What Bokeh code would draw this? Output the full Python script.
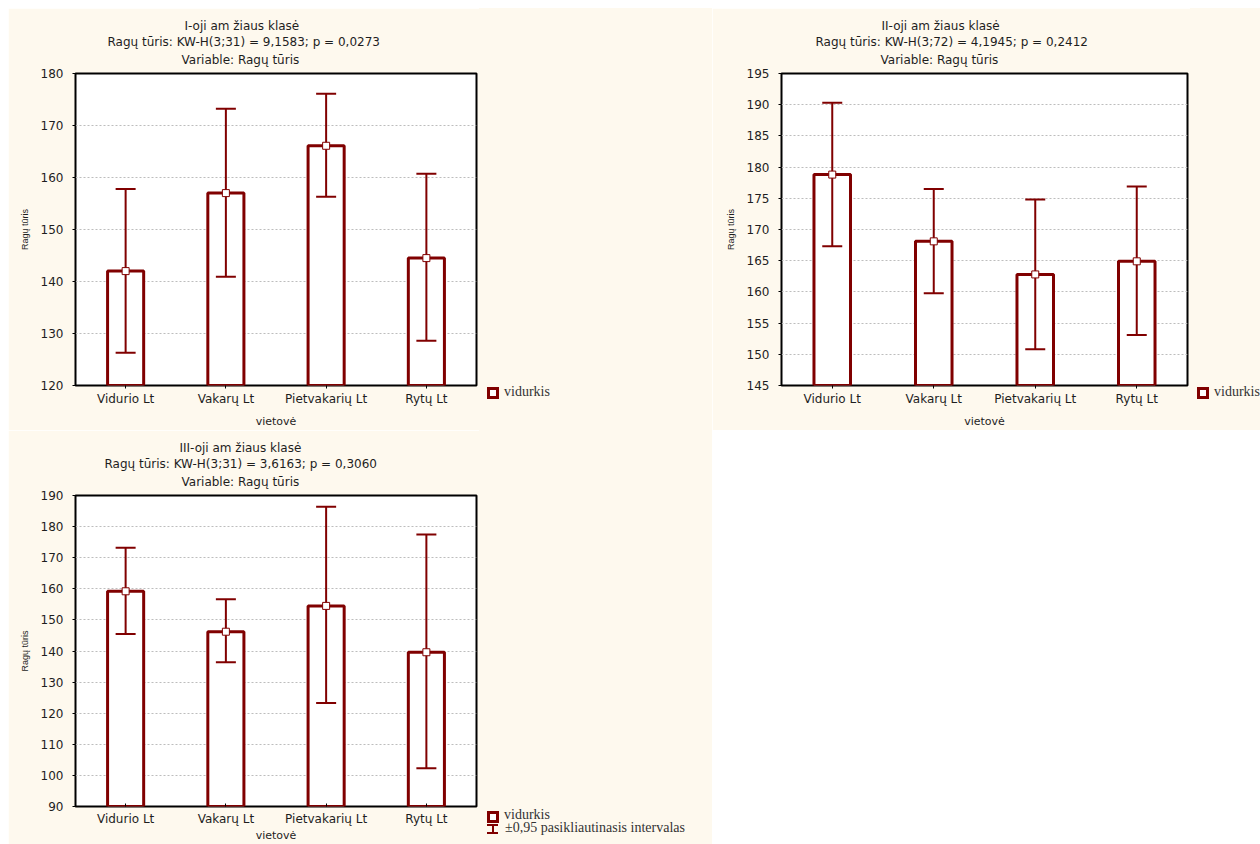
from bokeh.plotting import figure
from bokeh.models import (ColumnDataSource, Whisker, TeeHead, Title, Div,
                          SingleIntervalTicker, Range1d, FactorRange, Spacer)
from bokeh.layouts import column, row
from bokeh.embed import file_html
from bokeh.resources import INLINE

# ---------------- data ----------------
categories = ["Vidurio Lt", "Vakarų Lt", "Pietvakarių Lt", "Rytų Lt"]

p1_mean = [142.0, 157.0, 166.1, 144.5]
p1_lo = [126.3, 140.9, 156.3, 128.6]
p1_hi = [157.8, 173.2, 176.1, 160.7]

p2_mean = [178.8, 168.1, 162.8, 164.9]
p2_lo = [167.3, 159.8, 150.8, 153.1]
p2_hi = [190.3, 176.5, 174.8, 176.9]

p3_mean = [159.2, 146.2, 154.5, 139.6]
p3_lo = [145.5, 136.4, 123.3, 102.3]
p3_hi = [173.2, 156.6, 186.4, 177.5]

p1_titles = ["I-oji am žiaus klasė",
             "Ragų tūris:  KW-H(3;31) = 9,1583; p = 0,0273",
             "Variable: Ragų tūris"]
p2_titles = ["II-oji am žiaus klasė",
             "Ragų tūris:  KW-H(3;72) = 4,1945; p = 0,2412",
             "Variable: Ragų tūris"]
p3_titles = ["III-oji am žiaus klasė",
             "Ragų tūris:  KW-H(3;31) = 3,6163; p = 0,3060",
             "Variable: Ragų tūris"]

y_label = "Ragų tūris"
x_label = "vietovė"
legend_mean = "vidurkis"
legend_ci = "±0,95 pasikliautinasis intervalas"

# ---------------- style ----------------
RED = "#800000"
CREAM = "#FEF9EE"
SANS = "DejaVu Sans"
SERIF = "Liberation Serif"
TXT = "#1e1e1e"


def make_main(titles, means, lo, hi, y0, y1, ystep, width, height, borders,
              title_offsets, xaxis_cfg):
    bl, br, bt, bb = borders
    p = figure(x_range=FactorRange(factors=categories), y_range=Range1d(y0, y1),
               width=width, height=height, output_backend="svg", toolbar_location=None,
               title=None,
               min_border_left=bl, min_border_right=br, min_border_top=bt,
               min_border_bottom=bb)
    p.background_fill_color = "white"
    p.border_fill_color = CREAM
    p.outline_line_color = "black"
    p.outline_line_width = 2

    src = ColumnDataSource(dict(cat=categories, mean=means, lo=lo, hi=hi))

    p.vbar(x="cat", top="mean", bottom=y0, width=0.36, source=src,
           fill_color="white", line_color=RED, line_width=3)
    wh = Whisker(source=src, base="cat", upper="hi", lower="lo",
                 line_color=RED, line_width=2, level="annotation",
                 upper_head=TeeHead(size=20, line_color=RED, line_width=2),
                 lower_head=TeeHead(size=20, line_color=RED, line_width=2))
    p.add_layout(wh)
    p.scatter(x="cat", y="mean", source=src, marker="square", size=7,
              fill_color="white", line_color=RED, line_width=1, level="overlay")

    # axes
    p.yaxis.ticker = SingleIntervalTicker(interval=ystep)
    p.yaxis.minor_tick_line_color = None
    p.yaxis.major_tick_out = 3
    p.yaxis.major_tick_in = 0
    p.yaxis.axis_line_color = None
    p.yaxis.major_label_text_font = SANS
    p.yaxis.major_label_text_font_size = "12px"
    p.yaxis.major_label_text_color = TXT
    p.yaxis.major_label_standoff = 8
    p.yaxis.axis_label = y_label
    p.yaxis.axis_label_text_font = "Liberation Sans"
    p.yaxis.axis_label_text_font_size = "9px"
    p.yaxis.axis_label_text_font_style = "normal"
    p.yaxis.axis_label_text_color = TXT
    p.yaxis.axis_label_standoff = 8

    tick_out, tick_in, lab_std, axl_std = xaxis_cfg
    p.xaxis.axis_line_color = None
    p.xaxis.major_tick_out = tick_out
    p.xaxis.major_tick_in = tick_in
    p.xaxis.major_label_text_font = SANS
    p.xaxis.major_label_text_font_size = "12px"
    p.xaxis.major_label_text_color = TXT
    p.xaxis.major_label_standoff = lab_std
    p.xaxis.axis_label = x_label
    p.xaxis.axis_label_text_font = SANS
    p.xaxis.axis_label_text_font_size = "11px"
    p.xaxis.axis_label_text_font_style = "normal"
    p.xaxis.axis_label_text_color = TXT
    p.xaxis.axis_label_standoff = axl_std

    p.xgrid.grid_line_color = None
    p.ygrid.grid_line_color = "#bdbdbd"
    p.ygrid.grid_line_dash = "2 2"
    p.ygrid.grid_line_width = 1

    # three title lines, added nearest-first (line 3 sits closest to the frame)
    specs = [(titles[2], title_offsets[2], "top", 9),
             (titles[1], title_offsets[1], "bottom", 0),
             (titles[0], title_offsets[0], "bottom", 0)]
    for txt, off, valign, std in specs:
        p.add_layout(Title(text=txt, align="left", offset=off, vertical_align=valign,
                           standoff=std, text_font=SANS, text_font_size="12px",
                           text_font_style="normal", text_color=TXT), "above")
    return p


TEXT_CSS = (f"position:absolute;white-space:nowrap;font-family:'{SERIF}';"
            "font-size:14px;line-height:14px;color:#333333;")


def mean_icon(left, top):
    return (f"<div style='position:absolute;left:{left}px;top:{top}px;"
            f"box-sizing:border-box;width:12px;height:12px;background:#ffffff;"
            f"border:3px solid {RED};'></div>")


def ci_icon(left, top):
    return (f"<div style='position:absolute;left:{left}px;top:{top}px;width:11px;"
            f"height:2px;background:{RED};'></div>"
            f"<div style='position:absolute;left:{left + 4.5}px;top:{top}px;width:2px;"
            f"height:10px;background:{RED};'></div>"
            f"<div style='position:absolute;left:{left}px;top:{top + 8}px;width:11px;"
            f"height:2px;background:{RED};'></div>")


def legend_strip(width, height, rows):
    parts = []
    for kind, ix, iy, label, tx, ty in rows:
        parts.append(mean_icon(ix, iy) if kind == "mean" else ci_icon(ix, iy))
        parts.append(f"<div style=\"{TEXT_CSS}left:{tx}px;top:{ty}px;\">{label}</div>")
    html = (f"<div style='position:relative;width:{width}px;height:{height}px;"
            f"background:{CREAM};overflow:hidden;'>" + "".join(parts) + "</div>")
    # overlap the panel on the left by one pixel to hide the seam
    return Div(text=html, width=width, height=height, margin=(0, 0, 0, -1),
               styles={"background-color": CREAM})


p1 = make_main(p1_titles, p1_mean, p1_lo, p1_hi, 120, 180, 10, 472, 422,
               (67, 4, 65, 43), (109, 32, 106), (3, 0, 3, 6))
l1 = legend_strip(233, 422, [("mean", 8, 379, legend_mean, 25, 377)])
p2 = make_main(p2_titles, p2_mean, p2_lo, p2_hi, 145, 195, 5, 479, 422,
               (69, 4, 65, 43), (100, 34, 99), (3, 0, 3, 6))
l2 = legend_strip(70, 422, [("mean", 7, 379, legend_mean, 24, 377)])
p3 = make_main(p3_titles, p3_mean, p3_lo, p3_hi, 90, 190, 10, 472, 414,
               (67, 4, 65, 35), (104, 29, 106), (0, 3, 5, 0))
l3 = legend_strip(233, 414, [("mean", 8, 381, legend_mean, 25, 378),
                             ("ci", 8, 394, legend_ci, 26, 391)])

layout = column(Spacer(width=8, height=8),
                row(Spacer(width=8, height=422), p1, l1, p2, l2),
                row(Spacer(width=8, height=414), p3, l3))

with open("out.html", "w") as f:
    f.write(file_html(layout, INLINE))
